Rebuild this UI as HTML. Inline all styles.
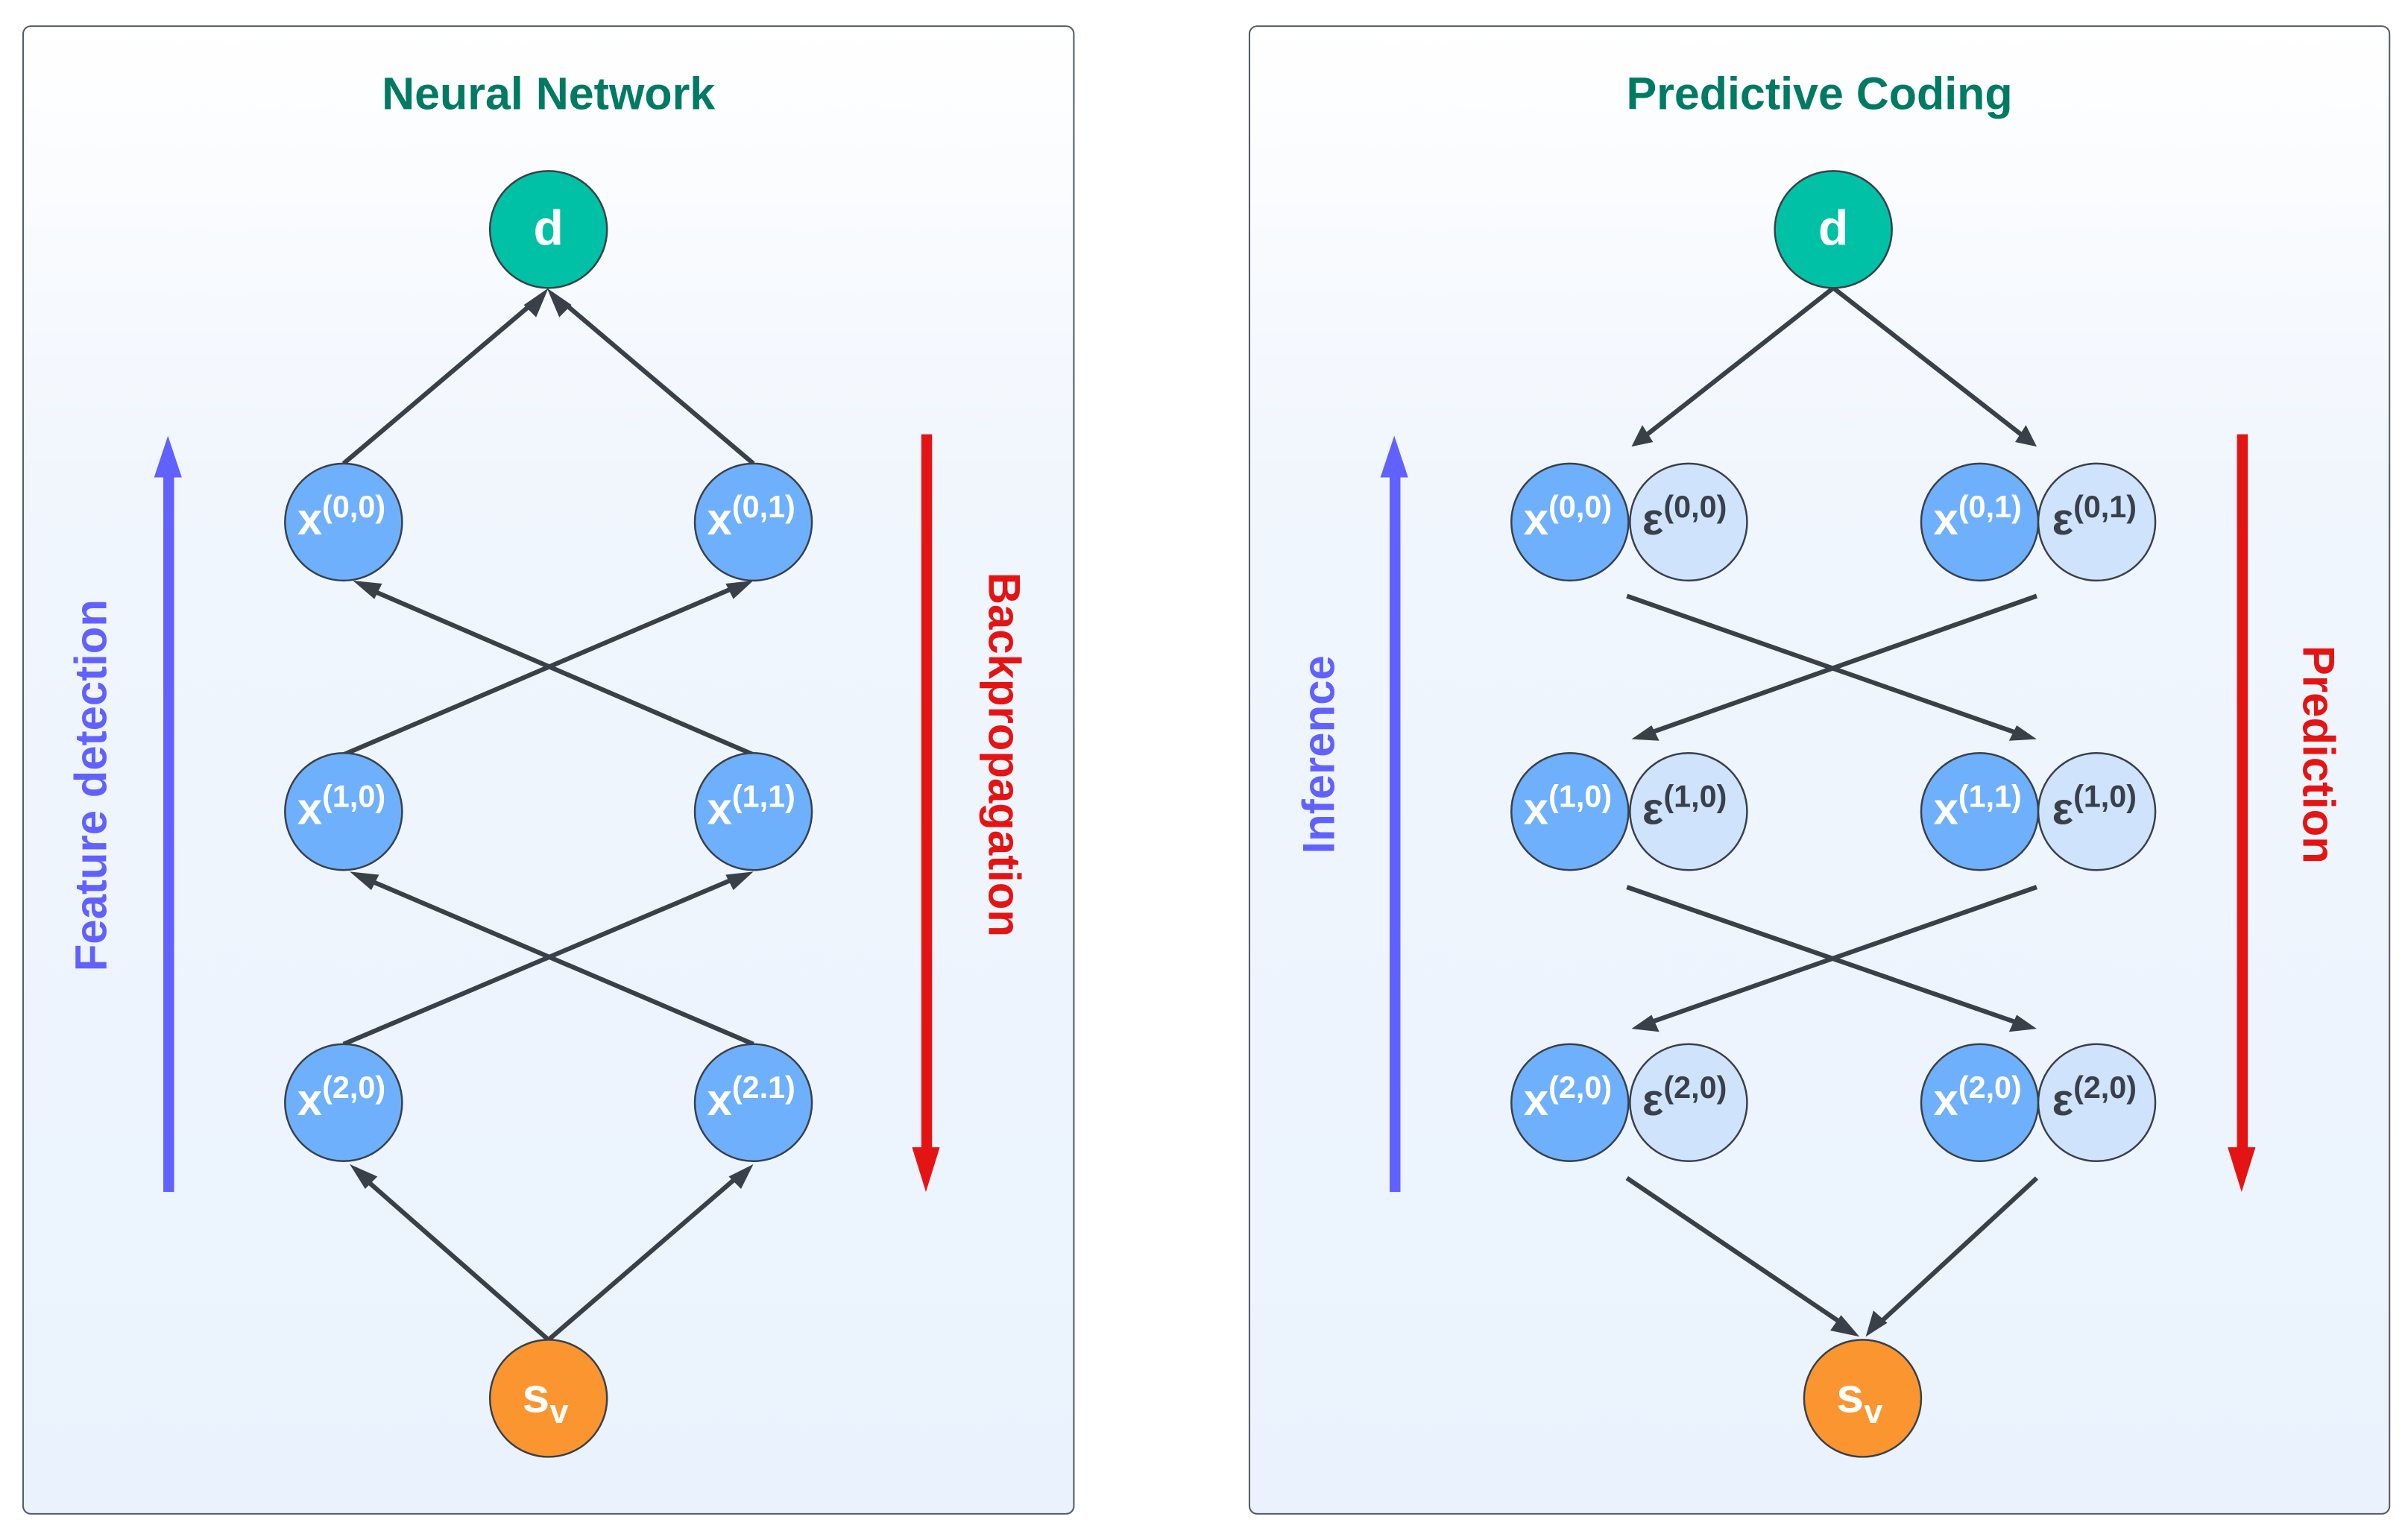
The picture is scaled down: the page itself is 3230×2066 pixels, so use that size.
<!DOCTYPE html>
<html><head><meta charset="utf-8"><style>
html,body{margin:0;padding:0;background:#fff;width:3230px;height:2066px;overflow:hidden}
svg{display:block}
text{font-family:"Liberation Sans",sans-serif;font-weight:bold}
</style></head><body>
<svg width="3230" height="2066" viewBox="0 0 1563 1000" preserveAspectRatio="none" xmlns="http://www.w3.org/2000/svg">
<defs>
<linearGradient id="bg" x1="0" y1="0" x2="0" y2="1">
<stop offset="0" stop-color="#ffffff"/><stop offset="0.3" stop-color="#f1f6fd"/><stop offset="1" stop-color="#eaf3fd"/>
</linearGradient>
</defs>
<rect x="0" y="0" width="1563" height="1000" fill="#fff"/>
<rect x="15" y="17" width="682" height="966" rx="5" fill="url(#bg)" stroke="#555c66" stroke-width="1"/>
<rect x="811" y="17" width="740" height="966" rx="5" fill="url(#bg)" stroke="#555c66" stroke-width="1"/>

<text x="356" y="71" font-size="29.5" fill="#007a63" text-anchor="middle">Neural Network</text>
<text x="1181" y="71" font-size="29.5" fill="#007a63" text-anchor="middle">Predictive Coding</text>

<g stroke="#39404a" stroke-width="3" fill="none">
<line x1="223" y1="301" x2="348" y2="195"/>
<line x1="489" y1="301" x2="364" y2="195"/>
<line x1="223" y1="490" x2="478" y2="381"/>
<line x1="489" y1="490" x2="236" y2="381"/>
<line x1="223" y1="678" x2="478" y2="570"/>
<line x1="489" y1="678" x2="236" y2="570"/>
<line x1="356" y1="870" x2="234" y2="763"/>
<line x1="356" y1="870" x2="480" y2="763"/>
<line x1="1190" y1="187" x2="1068" y2="283"/>
<line x1="1190" y1="187" x2="1313" y2="283"/>
<line x1="1056" y1="387" x2="1312" y2="477"/>
<line x1="1322" y1="387" x2="1068" y2="477"/>
<line x1="1056" y1="576" x2="1312" y2="665"/>
<line x1="1322" y1="576" x2="1068" y2="665"/>
<line x1="1056" y1="765" x2="1198" y2="861"/>
<line x1="1322" y1="765" x2="1218" y2="861"/>
</g>
<g fill="#39404a">
<polygon points="356,187 348,206 340,198"/>
<polygon points="356,187 364,206 372,198" transform="translate(-1,0)"/>
<polygon points="489,377 476,389 471,379"/>
<polygon points="229,377 248,379 243,389"/>
<polygon points="489,566 476,578 471,568"/>
<polygon points="227,566 246,568 241,578"/>
<polygon points="227,756 245,764 237,772"/>
<polygon points="489,756 481,772 473,764"/>
<polygon points="1059,290 1066,276 1073,287"/>
<polygon points="1322,290 1308,287 1315,276"/>
<polygon points="1322,480 1304,481 1309,471"/>
<polygon points="1059,480 1072,471 1077,481"/>
<polygon points="1322,668 1304,670 1309,659"/>
<polygon points="1059,668 1072,659 1077,670"/>
<polygon points="1207,868 1188,864 1195,854"/>
<polygon points="1211,868 1216,851 1225,859"/>
</g>

<rect x="106" y="308" width="7" height="466" fill="#6161ff"/>
<polygon points="109,283 100,310 118,310" fill="#6161ff"/>
<rect x="598" y="282" width="7" height="465" fill="#e51414"/>
<polygon points="601,774 592,745 610,745" fill="#e51414"/>
<rect x="902" y="308" width="7" height="466" fill="#6161ff"/>
<polygon points="905,283 896,310 914,310" fill="#6161ff"/>
<rect x="1452" y="282" width="7" height="465" fill="#e51414"/>
<polygon points="1455,774 1446,745 1464,745" fill="#e51414"/>

<text transform="translate(69,510) rotate(-90)" font-size="29" fill="#6161ff" text-anchor="middle">Feature detection</text>
<text transform="translate(642,490) rotate(90)" font-size="29" fill="#e51414" text-anchor="middle">Backpropagation</text>
<text transform="translate(866,490) rotate(-90)" font-size="29" fill="#6161ff" text-anchor="middle">Inference</text>
<text transform="translate(1495,490) rotate(90)" font-size="29" fill="#e51414" text-anchor="middle">Prediction</text>

<g stroke="#39404a" stroke-width="1.2">
<circle cx="356" cy="149" r="38" fill="#00c1a5"/>
<circle cx="356" cy="908" r="38" fill="#fb9530"/>
<circle cx="1190" cy="149" r="38" fill="#00c1a5"/>
<circle cx="1209" cy="908" r="38" fill="#fb9530"/>
<g fill="#6eb0fc">
<circle cx="223" cy="339" r="38"/><circle cx="489" cy="339" r="38"/>
<circle cx="223" cy="527" r="38"/><circle cx="489" cy="527" r="38"/>
<circle cx="223" cy="716" r="38"/><circle cx="489" cy="716" r="38"/>
<circle cx="1019" cy="339" r="38"/><circle cx="1285" cy="339" r="38"/>
<circle cx="1019" cy="527" r="38"/><circle cx="1285" cy="527" r="38"/>
<circle cx="1019" cy="716" r="38"/><circle cx="1285" cy="716" r="38"/>
</g>
<g fill="#cfe3fd">
<circle cx="1096" cy="339" r="38"/><circle cx="1361" cy="339" r="38"/>
<circle cx="1096" cy="527" r="38"/><circle cx="1361" cy="527" r="38"/>
<circle cx="1096" cy="716" r="38"/><circle cx="1361" cy="716" r="38"/>
</g>
</g>

<g fill="#fff">
<text x="356" y="159" font-size="32" text-anchor="middle">d</text>
<text x="1190" y="159" font-size="32" text-anchor="middle">d</text>
<text x="339" y="917" font-size="32">s<tspan font-size="22" dy="7">v</tspan></text>
<text x="1192" y="917" font-size="32">s<tspan font-size="22" dy="7">v</tspan></text>
</g>
<g fill="#fff" font-size="29">
<text x="193" y="347">x<tspan font-size="20" dy="-11">(0,0)</tspan></text>
<text x="459" y="347">x<tspan font-size="20" dy="-11">(0,1)</tspan></text>
<text x="193" y="535">x<tspan font-size="20" dy="-11">(1,0)</tspan></text>
<text x="459" y="535">x<tspan font-size="20" dy="-11">(1,1)</tspan></text>
<text x="193" y="724">x<tspan font-size="20" dy="-11">(2,0)</tspan></text>
<text x="459" y="724">x<tspan font-size="20" dy="-11">(2.1)</tspan></text>
<text x="989" y="347">x<tspan font-size="20" dy="-11">(0,0)</tspan></text>
<text x="1255" y="347">x<tspan font-size="20" dy="-11">(0,1)</tspan></text>
<text x="989" y="535">x<tspan font-size="20" dy="-11">(1,0)</tspan></text>
<text x="1255" y="535">x<tspan font-size="20" dy="-11">(1,1)</tspan></text>
<text x="989" y="724">x<tspan font-size="20" dy="-11">(2,0)</tspan></text>
<text x="1255" y="724">x<tspan font-size="20" dy="-11">(2,0)</tspan></text>
</g>
<g fill="#39404a" font-size="29">
<text x="1066" y="347">ε<tspan font-size="20" dy="-11">(0,0)</tspan></text>
<text x="1332" y="347">ε<tspan font-size="20" dy="-11">(0,1)</tspan></text>
<text x="1066" y="535">ε<tspan font-size="20" dy="-11">(1,0)</tspan></text>
<text x="1332" y="535">ε<tspan font-size="20" dy="-11">(1,0)</tspan></text>
<text x="1066" y="724">ε<tspan font-size="20" dy="-11">(2,0)</tspan></text>
<text x="1332" y="724">ε<tspan font-size="20" dy="-11">(2,0)</tspan></text>
</g>
</svg>
</body></html>
